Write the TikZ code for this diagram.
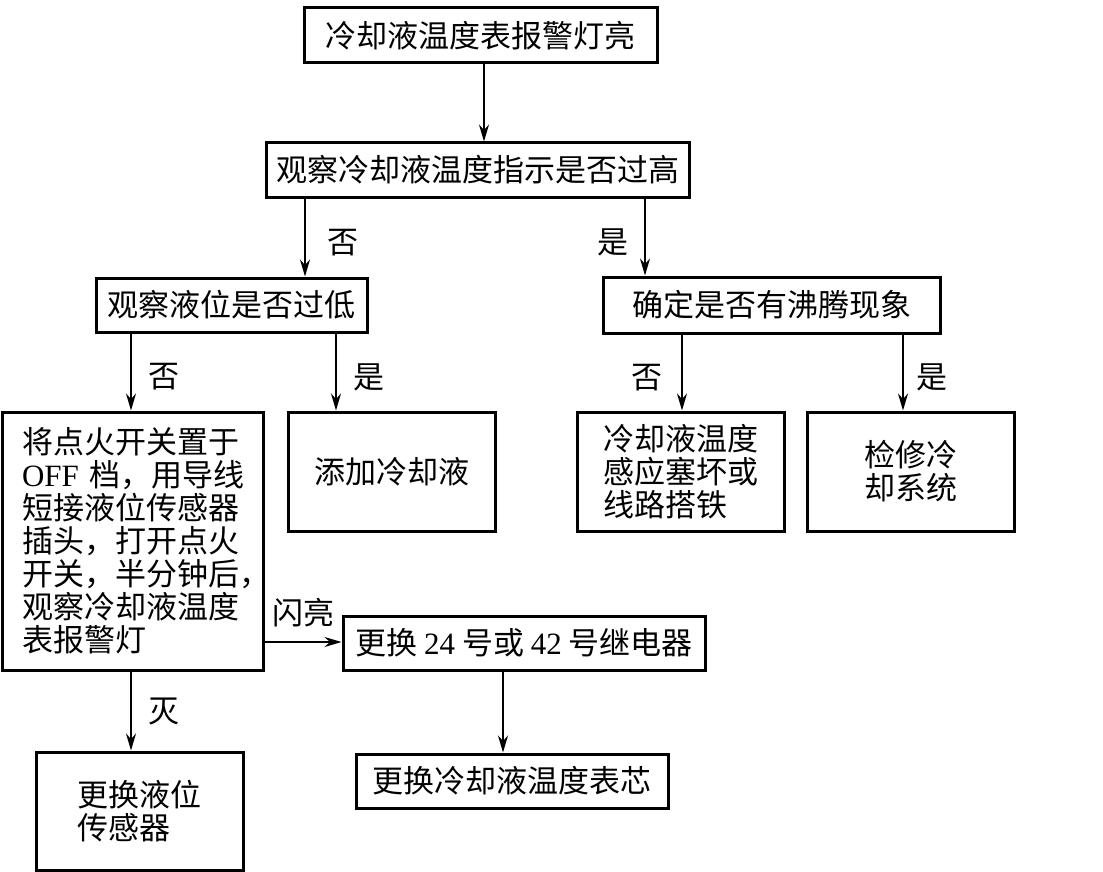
\documentclass[tikz,border=0pt]{standalone}
\usepackage{fontspec}
\setmainfont{Noto Sans CJK SC}
\newfontfamily\latin{Liberation Serif}
\usetikzlibrary{arrows.meta,positioning}
\tikzset{
  box/.style={draw, line width=3pt, inner sep=0pt, align=center},
  lab/.style={inner sep=0pt, yshift=-5pt},
  arr/.style={line width=2pt, -{Stealth[length=17pt,width=10pt]}},
}
\begin{document}
\begin{tikzpicture}[x=1pt,y=-1pt,font=\fontsize{31}{33}\selectfont]
      \useasboundingbox (0,0) rectangle (1103,872);
      \draw
        (480.5,35.5) node[box,minimum width=353pt,minimum height=55pt] (warn){冷却液温度表报警灯亮}
        (477.5,170) node[box,minimum width=423pt,minimum height=54pt] (obs){观察冷却液温度指示是否过高}
        (231.5,305) node[box,minimum width=271pt,minimum height=54pt] (lvl){观察液位是否过低}
        (771.5,305) node[box,minimum width=337pt,minimum height=56pt] (boil){确定是否有沸腾现象}
        (132.5,541) node[box,minimum width=261pt,minimum height=258pt,text width=221pt,inner xsep=20pt,align=left] (test){将点火开关置于\\{\latin OFF}~档，用导线\\短接液位传感器\\插头，打开点火\\开关，半分钟后，\\观察冷却液温度\\表报警灯}
        (391.5,471.5) node[box,minimum width=207pt,minimum height=119pt] (add){添加冷却液}
        (680.5,471.5) node[box,minimum width=207pt,minimum height=119pt,align=left] (sens){冷却液温度\\感应塞坏或\\线路搭铁}
        (910.5,471.5) node[box,minimum width=207pt,minimum height=119pt,align=left] (fix){检修冷\\却系统}
        (524,643) node[box,minimum width=362pt,minimum height=54pt] (relay){更换 {\latin 24} 号或 {\latin 42} 号继电器}
        (139.5,811) node[box,minimum width=207pt,minimum height=118pt,align=left] (repl){更换液位\\传感器}
        (512,781) node[box,minimum width=312pt,minimum height=54pt] (core){更换冷却液温度表芯};
      \begin{scope}[arr]
        \draw (warn.south -| 484,0) to (obs.north -| 484,0);
        \draw (obs.south -| 305,0) to node[lab,right=21pt]{否} (lvl.north -| 305,0);
        \draw (obs.south -| 645,0) to node[lab,left=16pt]{是} (boil.north -| 645,0);
        \draw (lvl.south -| 131,0) to node[lab,right=16pt]{否} (test.north -| 131,0);
        \draw (lvl.south -| 336,0) to node[lab,right=16pt]{是} (add.north -| 336,0);
        \draw (boil.south -| 682,0) to node[lab,left=19pt]{否} (sens.north -| 682,0);
        \draw (boil.south -| 903,0) to node[lab,right=12pt]{是} (fix.north -| 903,0);
        \draw (test.east |- 0,642) to node[inner sep=0pt,above=14pt]{闪亮} (relay.west |- 0,642);
        \draw (test.south -| 131,0) to node[inner sep=0pt,right=16pt]{灭} (repl.north -| 131,0);
        \draw (relay.south -| 503,0) to (core.north -| 503,0);
      \end{scope}
    \end{tikzpicture}
\end{document}
